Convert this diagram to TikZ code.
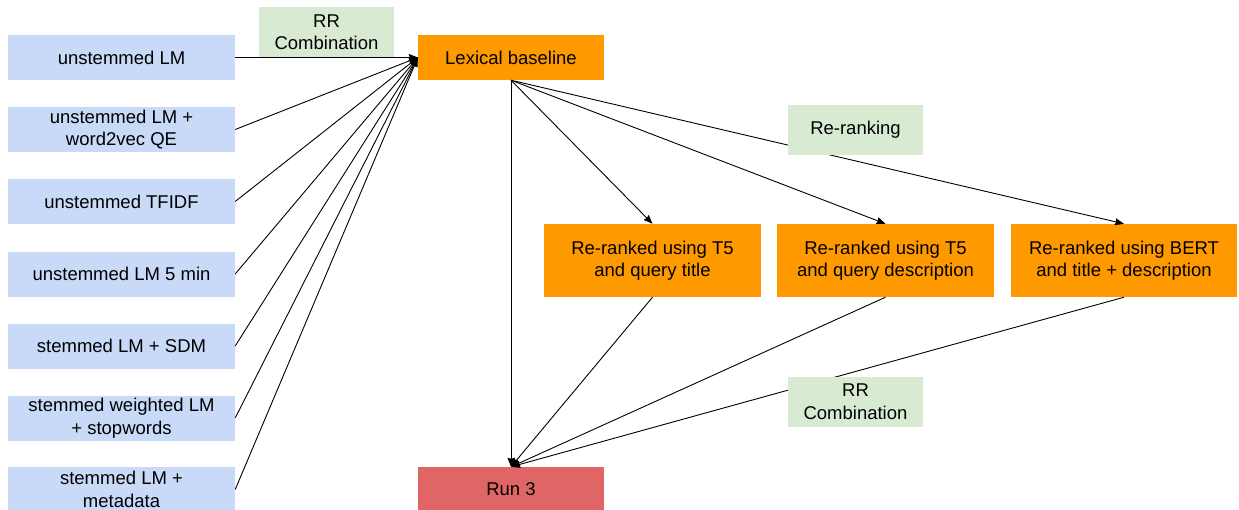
\documentclass[tikz,border=0pt]{standalone}
\usepackage{fontspec}
\setmainfont{Liberation Sans}
\usetikzlibrary{arrows.meta}
\definecolor{baseblue}{HTML}{C9DAF8}
\definecolor{labelgreen}{HTML}{D9EAD3}
\definecolor{rankorange}{HTML}{FF9900}
\definecolor{runred}{HTML}{E06666}

\begin{document}
\begin{tikzpicture}[x=1pt,y=-1pt]
\tikzstyle{every node}+=[inner sep=0pt, align=center, font=\fontsize{18.5}{22.5}\selectfont]
\tikzstyle{basebox}=[fill=baseblue, minimum width=227pt, minimum height=45pt]
\tikzstyle{labelbox}=[fill=labelgreen, minimum width=135pt, minimum height=50pt]
\tikzstyle{rankbox}=[fill=rankorange, minimum width=217pt, minimum height=73pt]
\tikzstyle{arr}=[black, line width=0.9pt, -{Stealth[length=9pt,width=7pt,inset=1pt]}]
\useasboundingbox (0,0) rectangle (1239,509);
% lexical runs
\node [basebox] (m1) at (121.5,57.5) {unstemmed LM};
\node [basebox] (m2) at (121.5,129.5) {unstemmed LM +\\word2vec QE};
\node [basebox] (m3) at (121.5,201.5) {unstemmed TFIDF};
\node [basebox] (m4) at (121.5,274) {unstemmed LM 5 min};
\node [basebox] (m5) at (121.5,346) {stemmed LM + SDM};
\node [basebox] (m6) at (121.5,418) {stemmed weighted LM\\+ stopwords};
\node [basebox] (m7) at (121.5,489.5) {stemmed LM +\\metadata};
\node [fill=rankorange, minimum width=186pt, minimum height=45pt] (lex) at (511,57.5) {Lexical baseline};
% re-ranked runs
\node [rankbox] (t5title) at (652.5,260.5) {Re-ranked using T5\\and query title};
\node [rankbox] (t5desc) at (885.5,260.5) {Re-ranked using T5\\and query description};
\node [rankbox, minimum width=226pt] (bert) at (1124,260.5) {Re-ranked using BERT\\and title + description};
\node [fill=runred, minimum width=186pt, minimum height=45pt] (run) at (511,489.5) {Run 3};
% connectors
\draw [arr] (m1.east) -- (lex.west);
\draw [arr] (m2.east) -- (lex.west);
\draw [arr] (m3.east) -- (lex.west);
\draw [arr] (m4.east) -- (lex.west);
\draw [arr] (m5.east) -- (lex.west);
\draw [arr] (m6.east) -- (lex.west);
\draw [arr] (m7.east) -- (lex.west);
\draw [arr] (lex.south) -- (t5title.north);
\draw [arr] (lex.south) -- (t5desc.north);
\draw [arr] (lex.south) -- (bert.north);
\draw [arr] (lex.south) -- (run.north);
\draw [arr] (t5title.south) -- (run.north);
\draw [arr] (t5desc.south) -- (run.north);
\draw [arr] (bert.south) -- (run.north);
% labels on top of the lines
\node [labelbox] (comb1) at (326.5,32) {RR\\Combination};
\node [labelbox] (rerank) at (855.5,129.5) {Re-ranking};
\node [labelbox] (comb2) at (855.5,401.5) {RR\\Combination};
\end{tikzpicture}
\end{document}
